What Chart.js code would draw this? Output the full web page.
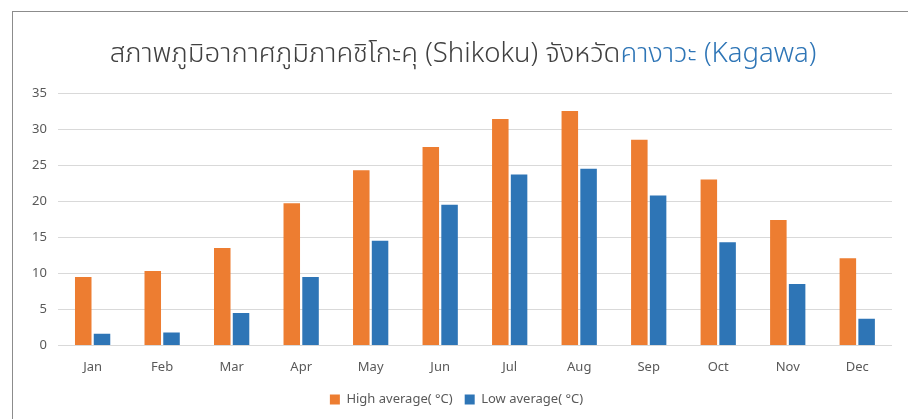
<!DOCTYPE html>
<html>
<head>
<meta charset="utf-8">
<script src="https://cdn.jsdelivr.net/npm/chart.js@4.4.1/dist/chart.umd.min.js"></script>
<style>
  html, body { margin: 0; padding: 0; background: #ffffff; }
  #wrap { position: relative; width: 908px; height: 419px; overflow: hidden; background: #fff; }
  #frame { position: absolute; left: 12px; top: 11px; width: 940px; height: 440px; border: 1px solid #8c8c8c; box-sizing: border-box; }
  #title { position: absolute; left: 0; width: 926px; top: 33px; text-align: center; font-family: "Noto Sans Thai", "Noto Sans", "Open Sans", sans-serif; font-weight: 300; font-size: 27.5px; color: #404040; white-space: nowrap; }
  #title .blue { color: #2E75B6; }
  #c { position: absolute; left: 0; top: 0; }
</style>
</head>
<body>
<div id="wrap">
  <div id="frame"></div>
  <canvas id="c" width="908" height="419"></canvas>
  <div id="title">สภาพภูมิอากาศภูมิภาคชิโกะคุ (Shikoku) จังหวัด<span class="blue">คางาวะ (Kagawa)</span></div>
</div>
<script>
const months = ["Jan","Feb","Mar","Apr","May","Jun","Jul","Aug","Sep","Oct","Nov","Dec"];
const highAvg = [9.5, 10.3, 13.5, 19.7, 24.3, 27.5, 31.4, 32.5, 28.5, 23.0, 17.4, 12.1];
const lowAvg = [1.6, 1.8, 4.5, 9.5, 14.5, 19.5, 23.7, 24.5, 20.8, 14.3, 8.5, 3.7];
const seriesNames = ["High average( °C)", "Low average( °C)"];

const fontFamily = '"Noto Sans", "Open Sans", sans-serif';
new Chart(document.getElementById('c'), {
  type: 'bar',
  data: {
    labels: months,
    datasets: [
      { label: seriesNames[0], data: highAvg, backgroundColor: '#ED7D31', categoryPercentage: 0.54, barPercentage: 0.88 },
      { label: seriesNames[1], data: lowAvg, backgroundColor: '#2E75B6', categoryPercentage: 0.54, barPercentage: 0.88 }
    ]
  },
  options: {
    responsive: false,
    animation: false,
    layout: { padding: { top: 93, left: 21, right: 16, bottom: 3 } },
    plugins: {
      title: { display: false },
      tooltip: { enabled: false },
      legend: {
        position: 'bottom',
        labels: { boxWidth: 10, boxHeight: 10, color: '#595959', font: { family: fontFamily, size: 13 }, padding: 12 }
      }
    },
    scales: {
      x: {
        grid: { display: false },
        border: { display: false },
        ticks: { color: '#595959', font: { family: fontFamily, size: 13 }, padding: 6 }
      },
      y: {
        min: 0, max: 35,
        ticks: { stepSize: 5, color: '#595959', font: { family: fontFamily, size: 13 }, padding: 11 },
        grid: { color: '#d9d9d9', drawTicks: false },
        border: { display: false }
      }
    }
  }
});
</script>
</body>
</html>
